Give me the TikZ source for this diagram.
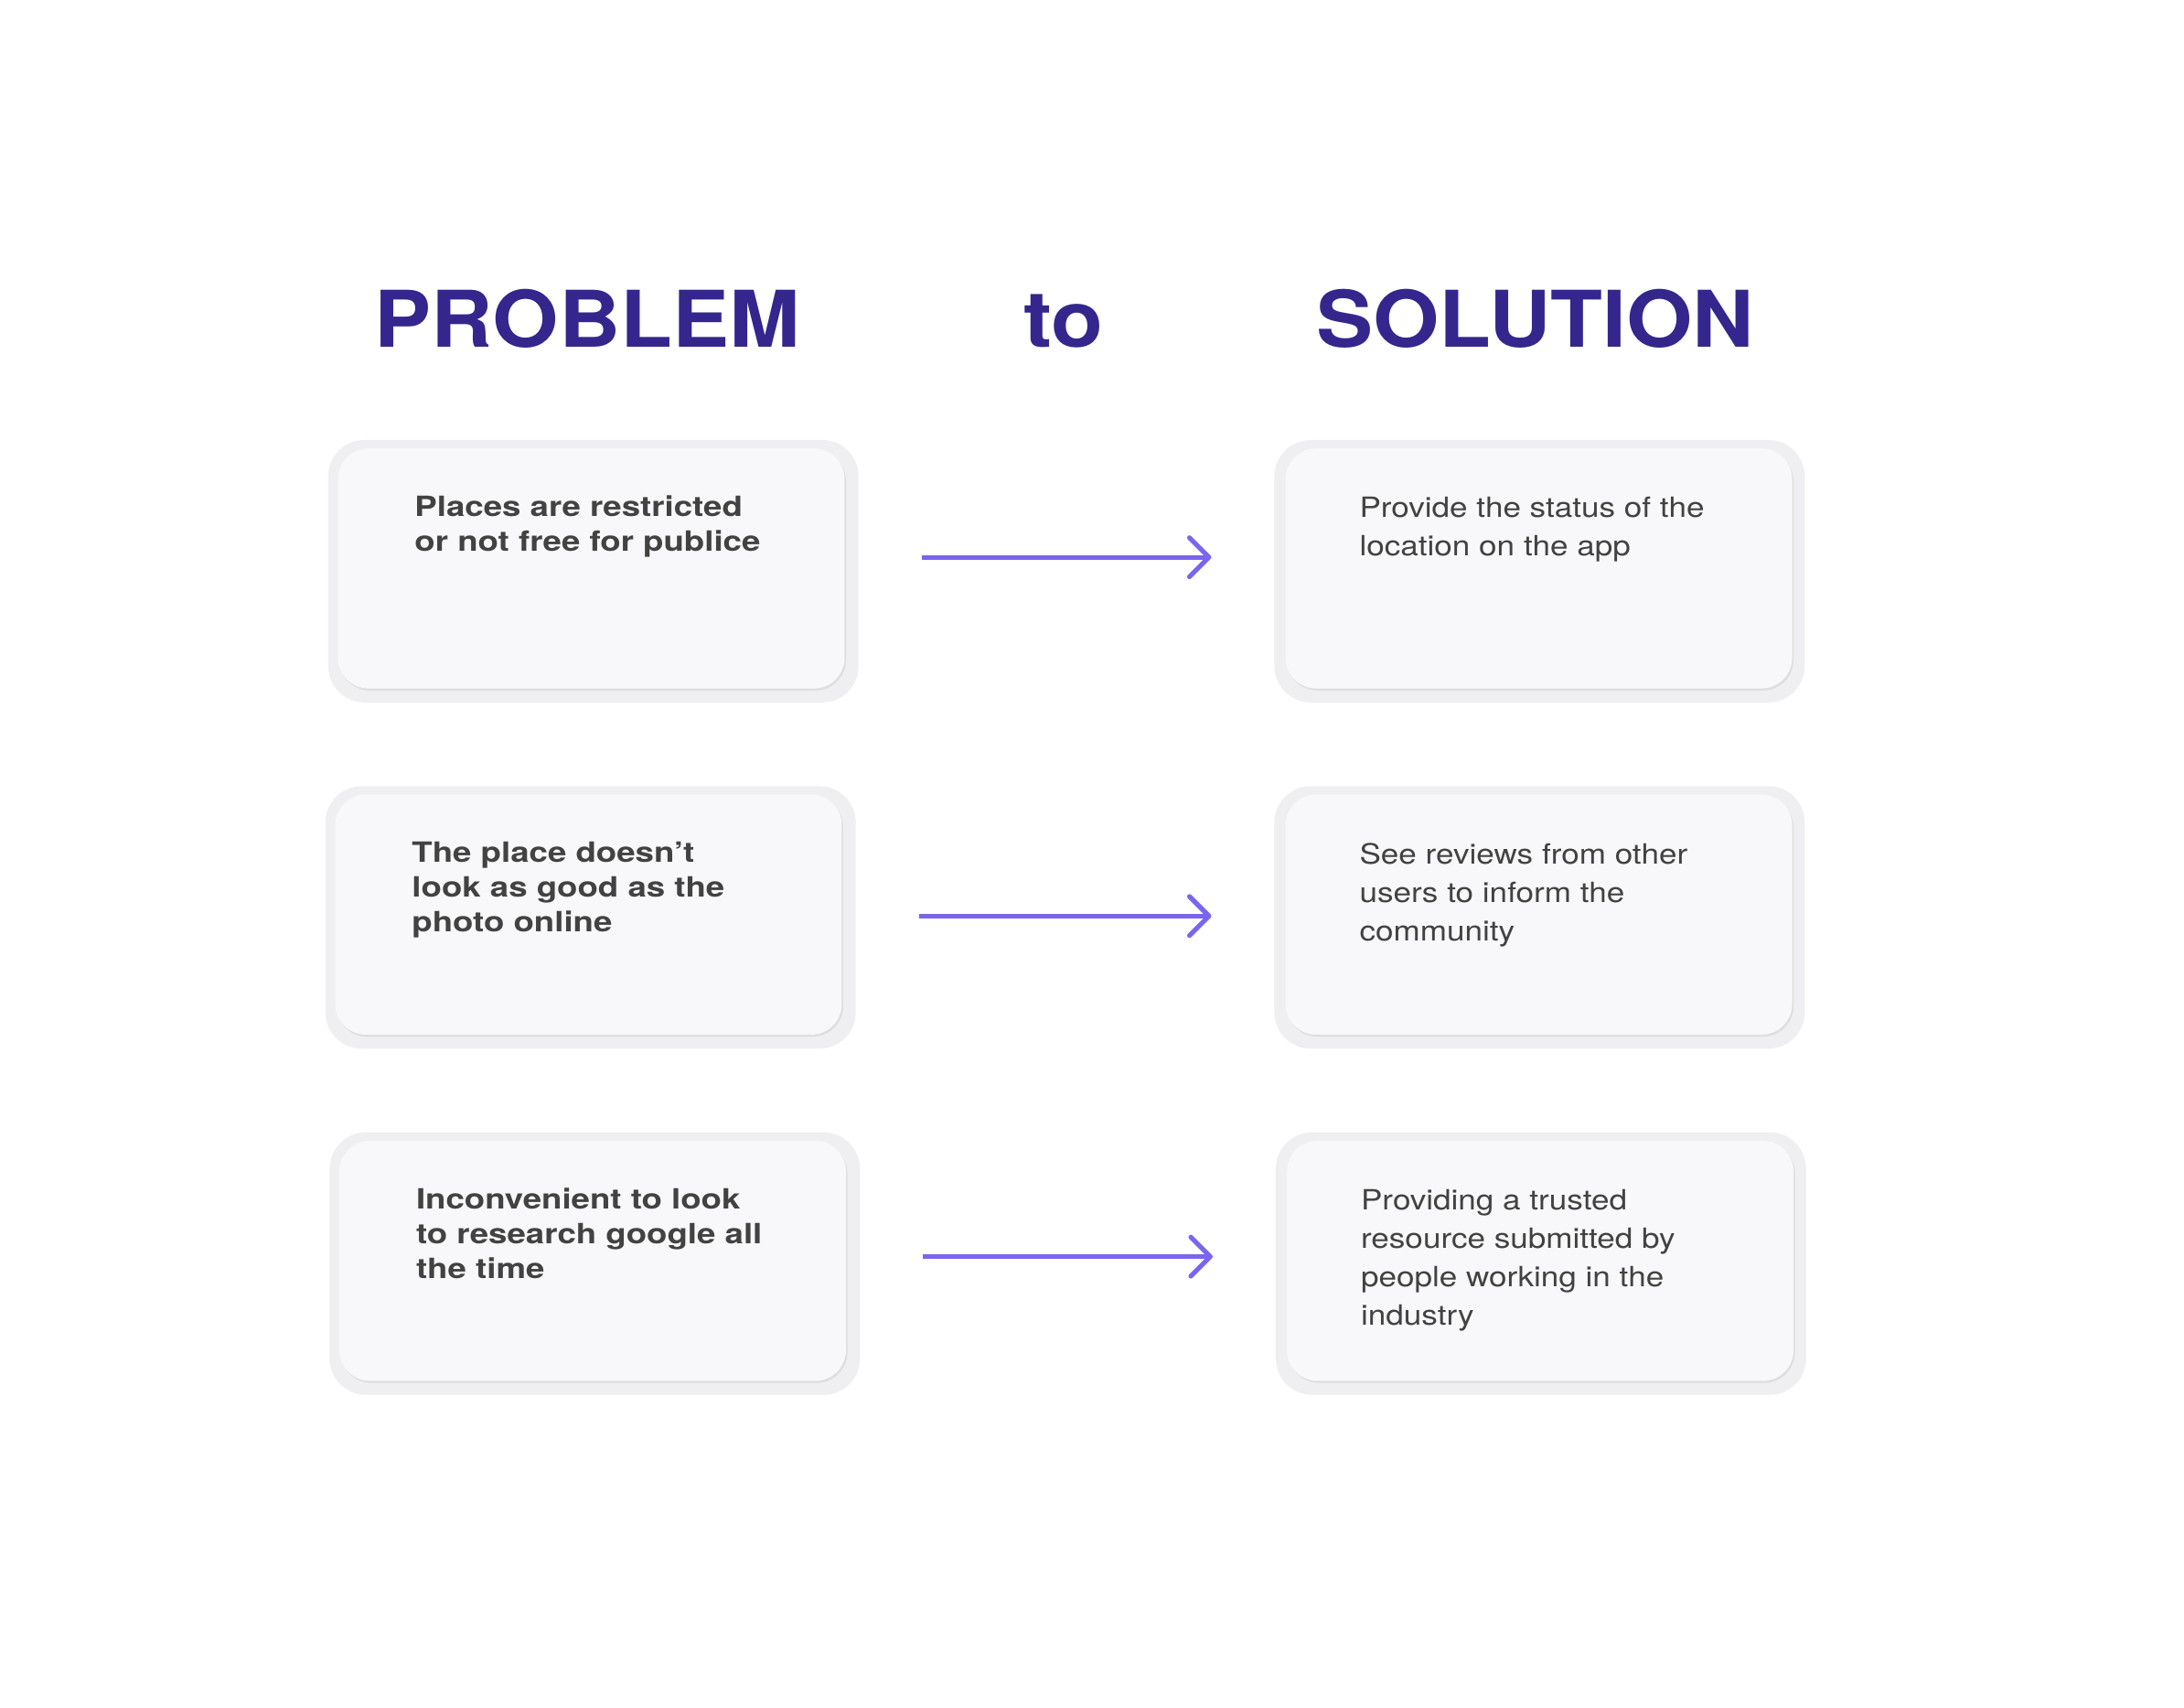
\documentclass[tikz,border=0pt]{standalone}
\usepackage{fontspec}
\setmainfont{TeX Gyre Heros}
\newfontfamily\headfont[FakeStretch=1.09]{TeX Gyre Heros}
\newfontfamily\cardfont[FakeStretch=1.15,BoldFeatures={FakeStretch=1.2}]{TeX Gyre Heros}
\usetikzlibrary{arrows.meta,shadows}
\definecolor{headblue}{HTML}{34268D}
\definecolor{arrowviolet}{HTML}{7A66EE}
\definecolor{framegray}{HTML}{EFEFF1}
\definecolor{cardgray}{HTML}{F8F8FA}
\definecolor{inkgray}{HTML}{424242}
\tikzset{
  heading/.style={font=\headfont\bfseries\fontsize{56}{60}\selectfont, text=headblue, anchor=base, inner sep=0pt},
  frame/.style={fill=framegray, rounded corners=26pt, minimum width=380pt, minimum height=188pt, inner sep=0pt, anchor=north west},
  card/.style={fill=cardgray, rounded corners=22pt, minimum width=363pt, minimum height=172pt, inner sep=0pt, anchor=north west,
    drop shadow={shadow xshift=1pt, shadow yshift=-1.5pt, fill=black, opacity=0.07}},
  problem/.style={font=\cardfont\bfseries\fontsize{20}{25}\selectfont, text=inkgray, align=left, anchor=north west, inner sep=0pt},
  solution/.style={font=\cardfont\fontsize{20}{27.5}\selectfont, text=inkgray, align=left, anchor=north west, inner sep=0pt},
  flow/.style={draw=arrowviolet, line width=3.4pt, -{Straight Barb[length=14pt,width=28pt,round]}, shorten <=45pt, shorten >=45pt},
}
\begin{document}
\begin{tikzpicture}[x=1pt,y=-1pt]
\fill[white] (0,0) rectangle (1565,1223);
\useasboundingbox (0,0) rectangle (1565,1223);
% headings
\node[heading] (hproblem) at (421,249) {PROBLEM};
\node[heading] (hto) at (762,249) {to};
\node[heading] (hsolution) at (1100,249) {SOLUTION};
% rows: problem card, solution card, arrow between
\foreach \n/\top/\lx/\rx/\dy/\ptext/\stext in {
  1/315/235/913/10/{Places are restricted\\or not free for publice}/{Provide the status of the\\location on the app},
  2/563/233/913/1/{The place doesn’t\\look as good as the\\photo online}/{See reviews from other\\users to inform the\\community},
  3/811/236/914/5/{Inconvenient to look\\to research google all\\the time}/{Providing a trusted\\resource submitted by\\people working in the\\industry}}{
  \node[frame] (p\n f) at (\lx,\top) {};
  \node[card] (p\n) at ([shift={(7,6)}]p\n f.north west) {};
  \node[problem] (p\n t) at ([shift={(55,34)}]p\n.north west) {\ptext};
  \node[frame] (s\n f) at (\rx,\top) {};
  \node[card] (s\n) at ([shift={(8,6)}]s\n f.north west) {};
  \node[solution] (s\n t) at ([shift={(53,35)}]s\n.north west) {\stext};
  \draw[flow] ([yshift=\dy pt]p\n f.east) -- ([yshift=\dy pt]s\n f.west);
}
\end{tikzpicture}
\end{document}
